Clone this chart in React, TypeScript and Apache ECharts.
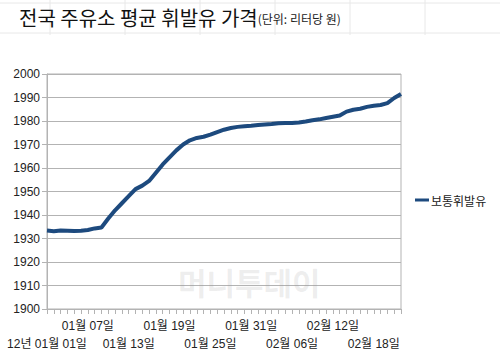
import React, { useEffect, useRef } from "react";
import * as echarts from "echarts";

const titleMain = "전국 주유소 평균 휘발유 가격";
const titleUnit = "(단위: 리터당 원)";
const seriesName = "보통휘발유";

// Daily dates 2012-01-01 .. 2012-02-22
const dates: string[] = [
  "01-01","01-02","01-03","01-04","01-05","01-06","01-07","01-08","01-09","01-10",
  "01-11","01-12","01-13","01-14","01-15","01-16","01-17","01-18","01-19","01-20",
  "01-21","01-22","01-23","01-24","01-25","01-26","01-27","01-28","01-29","01-30",
  "01-31","02-01","02-02","02-03","02-04","02-05","02-06","02-07","02-08","02-09",
  "02-10","02-11","02-12","02-13","02-14","02-15","02-16","02-17","02-18","02-19",
  "02-20","02-21","02-22",
];

const prices: number[] = [
  1933.4, 1933.1, 1933.4, 1933.3, 1933.2, 1933.3, 1933.6, 1934.3, 1934.7, 1938.5,
  1942.0, 1945.0, 1948.0, 1951.0, 1952.5, 1954.5, 1958.0, 1961.5, 1964.5, 1967.5,
  1970.0, 1971.8, 1972.8, 1973.3, 1974.2, 1975.3, 1976.3, 1977.0, 1977.5, 1977.8,
  1978.0, 1978.3, 1978.5, 1978.7, 1979.0, 1979.1, 1979.2, 1979.4, 1979.8, 1980.3,
  1980.7, 1981.3, 1981.8, 1982.3, 1984.0, 1984.8, 1985.2, 1986.0, 1986.5, 1986.8,
  1987.6, 1989.8, 1991.5,
];

const yMin = 1900;
const yMax = 2000;
const yStep = 10;

const FONT = "'Liberation Sans', Arial, 'Noto Sans CJK KR', sans-serif";
const KFONT = "'Noto Sans CJK KR', sans-serif";

function formatDate(d: string, i: number): string {
  const [m, day] = d.split("-");
  const txt = `${m}월 ${day}일`;
  return i === 0 ? `12년 ${txt}` : txt;
}

export default function App() {
  const ref = useRef<HTMLDivElement>(null);

  useEffect(() => {
    if (!ref.current) return;
    const chart = echarts.init(ref.current, undefined, { renderer: "svg" });

    const faintV = [50, 125, 200, 275, 350, 425].map((x) => ({
      type: "line",
      shape: { x1: x, y1: 0, x2: x, y2: 35 },
      style: { stroke: "#e8e8e8", lineWidth: 1 },
      silent: true,
    }));
    const faintH = [3, 33].map((y) => ({
      type: "line",
      shape: { x1: 0, y1: y, x2: 500, y2: y },
      style: { stroke: "#e8e8e8", lineWidth: 1 },
      silent: true,
    }));

    chart.setOption({
      animation: false,
      backgroundColor: "#ffffff",
      title: {
        text: `{a|${titleMain}}{b|${titleUnit}}`,
        left: 14,
        top: 2,
        textStyle: {
          fontWeight: "normal",
          rich: {
            a: { fontSize: 20, color: "#111", fontFamily: KFONT, fontWeight: "normal" },
            b: { fontSize: 12, color: "#222", fontFamily: KFONT, fontWeight: "normal", padding: [4, 0, 0, 0] },
          },
        },
      },
      legend: {
        data: [seriesName],
        orient: "vertical",
        left: 410,
        top: 189,
        icon: "rect",
        itemWidth: 14,
        itemHeight: 3,
        itemGap: 4,
        textStyle: { fontSize: 12, color: "#222", fontFamily: KFONT, padding: [0, 0, 0, -3] },
      },
      grid: { left: 47, right: 99, top: 74, bottom: 49, containLabel: false, show: true, borderColor: "#b3b3b3", borderWidth: 1 },
      xAxis: {
        type: "category",
        data: dates,
        boundaryGap: false,
        axisLine: { lineStyle: { color: "#b3b3b3" } },
        axisTick: { show: true, interval: 0, length: 5, inside: false, lineStyle: { color: "#b3b3b3" } },
        splitLine: { show: false },
        axisLabel: {
          interval: 0,
          hideOverlap: false,
          margin: 8,
          formatter: (v: string, i: number) => {
            if (i % 6 !== 0) return "";
            const txt = formatDate(v, i);
            const k = i / 6;
            return k % 2 === 1 ? `{l|${txt}}\n{l| }` : `{l| }\n{l|${txt}}`;
          },
          rich: {
            l: { fontSize: 12, color: "#222", fontFamily: FONT, lineHeight: 18 },
          },
        },
      },
      yAxis: {
        type: "value",
        min: yMin,
        max: yMax,
        interval: yStep,
        axisLine: { show: true, lineStyle: { color: "#b3b3b3" } },
        axisTick: { show: true, length: 5, lineStyle: { color: "#b3b3b3" } },
        splitLine: { show: true, lineStyle: { color: "#b3b3b3", width: 1 } },
        axisLabel: { fontSize: 12, color: "#222", fontFamily: FONT, margin: 7, formatter: (v: number) => String(v) },
      },
      series: [
        {
          name: seriesName,
          type: "line",
          data: prices,
          symbol: "none",
          smooth: false,
          lineStyle: { color: "#1d4a7e", width: 4 },
          itemStyle: { color: "#1d4a7e" },
        },
      ],
      graphic: [
        ...faintV,
        ...faintH,
        {
          type: "text",
          left: 178,
          top: 266,
          silent: true,
          z: 100,
          style: {
            text: "머니투데이",
            fontSize: 31,
            fontWeight: "bold",
            fontFamily: KFONT,
            fill: "rgba(150,150,150,0.16)",
          },
        },
      ],
    });

    return () => chart.dispose();
  }, []);

  return <div ref={ref} style={{ position: "absolute", left: 0, top: 0, width: 500, height: 358 }} />;
}
